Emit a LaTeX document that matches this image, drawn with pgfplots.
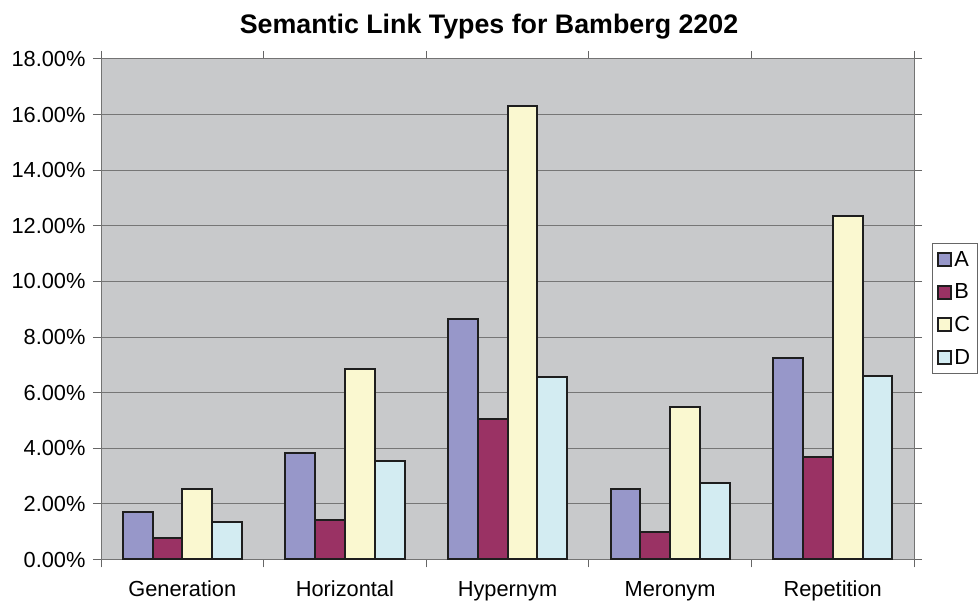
\documentclass[border=0pt]{standalone}
\usepackage{pgfplots}
\pgfplotsset{compat=1.18}
\usepackage{fontspec}
\setmainfont{Liberation Sans}

\definecolor{barA}{RGB}{151,151,201}
\definecolor{barB}{RGB}{154,50,100}
\definecolor{barC}{RGB}{250,248,208}
\definecolor{barD}{RGB}{211,236,242}
\definecolor{plotbg}{RGB}{200,201,203}
\definecolor{gridc}{RGB}{118,118,118}
\definecolor{edge}{RGB}{30,30,30}

\newcommand{\lblfont}{\fontsize{21.8bp}{25bp}\selectfont}

\begin{document}
\begin{tikzpicture}[x=1bp,y=1bp]
\useasboundingbox (0,0) rectangle (978,603);
\node[anchor=base, font=\fontsize{26.8bp}{31bp}\selectfont\bfseries]
  at (489,569.7) {Semantic Link Types for Bamberg 2202};
\begin{axis}[
  at={(101bp,43.5bp)}, anchor=south west,
  scale only axis, width=813bp, height=500.5bp,
  ybar=0pt, bar width=29.8bp,
  xmin=-0.5, xmax=4.5, ymin=0, ymax=18,
  xtick={0,1,2,3,4},
  xticklabels={Generation,Horizontal,Hypernym,Meronym,Repetition},
  major x tick style={draw=none},
  minor xtick={-0.5,0.5,1.5,2.5,3.5,4.5},
  minor x tick style={draw=black!60, line width=1bp},
  minor tick length=8bp,
  ytick={0,2,...,18},
  major tick length=8bp,
  tick align=outside,
  y tick style={draw=black!60, line width=1bp},
  ymajorgrids,
  grid style={draw=gridc, line width=1bp},
  axis background/.style={fill=plotbg},
  axis line style={draw=black!55, line width=1bp},
  /pgf/number format/assume math mode=true,
  yticklabel={\pgfmathprintnumber[fixed,fixed zerofill,precision=2]{\tick}\%},
  ticklabel style={font=\lblfont},
  yticklabel style={xshift=-4bp},
  xticklabel style={yshift=-10bp},
  legend style={at={(1.0221,0.6324)}, anchor=north west,
    draw=black!60, line width=0.8bp, fill=white, font=\lblfont,
    inner xsep=5bp, inner ysep=6bp, row sep=12bp},
  legend cell align=left,
  legend image code/.code={\draw[#1, draw=edge, line width=2bp] (0bp,-6.5bp) rectangle (13bp,6.5bp);},
  barstyle/.style={draw=edge, line width=2bp, fill=#1},
]
\addplot[barstyle=barA] coordinates {(0,1.71) (1,3.83) (2,8.66) (3,2.55) (4,7.25)};
\addplot[barstyle=barB] coordinates {(0,0.78) (1,1.43) (2,5.04) (3,1.00) (4,3.69)};
\addplot[barstyle=barC] coordinates {(0,2.52) (1,6.84) (2,16.31) (3,5.47) (4,12.37)};
\addplot[barstyle=barD] coordinates {(0,1.34) (1,3.55) (2,6.56) (3,2.74) (4,6.59)};
\legend{A,B,C,D}
\end{axis}
\end{tikzpicture}
\end{document}
